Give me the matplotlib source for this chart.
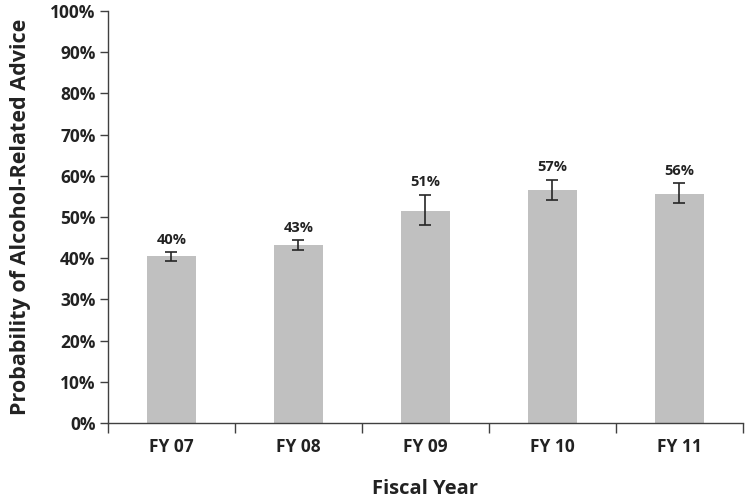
import numpy as np
import matplotlib
matplotlib.use('Agg')
import matplotlib.pyplot as plt
from matplotlib.ticker import FixedLocator, PercentFormatter

# Data
years = ['FY 07', 'FY 08', 'FY 09', 'FY 10', 'FY 11']
probability = [40.5, 43.2, 51.5, 56.6, 55.7]
err_low = [39.4, 42.1, 48.0, 54.1, 53.5]
err_high = [41.5, 44.4, 55.4, 59.0, 58.2]
value_labels = ['40%', '43%', '51%', '57%', '56%']

text_color = '#222222'
plt.rcParams['font.family'] = ['Open Sans', 'DejaVu Sans']
plt.rcParams['font.weight'] = 'bold'

fig = plt.figure(figsize=(7.55, 5.03), dpi=100)
ax = fig.add_axes([0.143, 0.159, 0.841, 0.819])

x = np.arange(len(years))
yerr = [np.array(probability) - np.array(err_low),
        np.array(err_high) - np.array(probability)]
ax.bar(x, probability, width=0.39, color='#c0c0c0', zorder=2)
ax.errorbar(x, probability, yerr=yerr, fmt='none', ecolor='#262626',
            elinewidth=1.2, capsize=4, capthick=1.2, zorder=3)

for xi, top, lab in zip(x, err_high, value_labels):
    ax.annotate(lab, (xi, top), xytext=(0, 4), textcoords='offset points',
                ha='center', va='bottom', fontsize=10.5, fontweight='bold',
                color=text_color)

ax.set_xlim(-0.5, len(years) - 0.5)
ax.set_ylim(0, 100)
ax.yaxis.set_major_locator(FixedLocator(np.arange(0, 101, 10)))
ax.yaxis.set_major_formatter(PercentFormatter(decimals=0))

# category boundary ticks on the x axis
ax.set_xticks(np.arange(-0.5, len(years), 1.0))
ax.set_xticklabels([])
ax.set_xticks(x, minor=True)
ax.set_xticklabels(years, minor=True)
ax.tick_params(axis='x', which='major', length=7, width=1, color='#404040')
ax.tick_params(axis='x', which='minor', length=0, pad=11, labelsize=12.5,
               labelcolor=text_color)
ax.tick_params(axis='y', length=6, width=1, color='#404040', labelsize=12.5,
               labelcolor=text_color, pad=3)

for side in ['top', 'right']:
    ax.spines[side].set_visible(False)
for side in ['left', 'bottom']:
    ax.spines[side].set_color('#404040')
    ax.spines[side].set_linewidth(1)

ax.set_xlabel('Fiscal Year', fontsize=14.5, fontweight='bold',
              color=text_color, labelpad=16)
ax.set_ylabel('Probability of Alcohol-Related Advice', fontsize=15.5,
              fontweight='bold', color=text_color, labelpad=14)

fig.savefig('out.png', dpi=100)
